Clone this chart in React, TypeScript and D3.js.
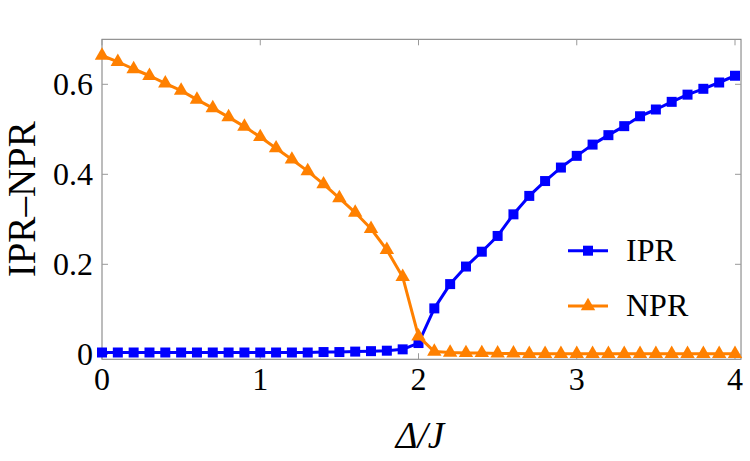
import React, { useEffect, useRef } from 'react';
import * as d3 from 'd3';

const deltaJ = [
  0.0, 0.1, 0.2, 0.3, 0.4, 0.5, 0.6, 0.7, 0.8, 0.9,
  1.0, 1.1, 1.2, 1.3, 1.4, 1.5, 1.6, 1.7, 1.8, 1.9,
  2.0, 2.1, 2.2, 2.3, 2.4, 2.5, 2.6, 2.7, 2.8, 2.9,
  3.0, 3.1, 3.2, 3.3, 3.4, 3.5, 3.6, 3.7, 3.8, 3.9, 4.0,
];

const ipr = [
  0.004, 0.004, 0.004, 0.004, 0.004, 0.004, 0.004, 0.004, 0.004, 0.004,
  0.004, 0.004, 0.004, 0.004, 0.005, 0.005, 0.006, 0.007, 0.008, 0.011,
  0.025, 0.102, 0.156, 0.195, 0.228, 0.263, 0.311, 0.352, 0.385, 0.415,
  0.441, 0.466, 0.487, 0.507, 0.529, 0.544, 0.561, 0.577, 0.590, 0.604, 0.619,
];

const npr = [
  0.664, 0.650, 0.634, 0.619, 0.602, 0.586, 0.566, 0.547, 0.527, 0.506,
  0.483, 0.458, 0.433, 0.407, 0.378, 0.347, 0.315, 0.279, 0.232, 0.172,
  0.040, 0.006, 0.004, 0.003, 0.003, 0.002, 0.002, 0.001, 0.001, 0.001,
  0.001, 0.001, 0.001, 0.001, 0.001, 0.001, 0.001, 0.001, 0.001, 0.001, 0.001,
];

const xTicks = [0, 1, 2, 3, 4];
const yTicks = [0, 0.2, 0.4, 0.6];

const BLUE = '#0000ff';
const ORANGE = '#ff8000';
const FONT = '"Liberation Serif", "Times New Roman", serif';

const App: React.FC = () => {
  const svgRef = useRef<SVGSVGElement>(null);

  useEffect(() => {
    if (!svgRef.current) return;
    const svg = d3.select(svgRef.current);
    svg.selectAll('*').remove();

    const x = d3.scaleLinear().domain([0, 4]).range([102, 735]);
    const y = d3.scaleLinear().domain([0, 0.6]).range([354.3, 84.3]);

    const left = x(0), right = x(4.038);
    const top = y(0.7), bottom = y(-0.011);

    // frame
    svg.append('rect')
      .attr('x', left).attr('y', top)
      .attr('width', right - left).attr('height', bottom - top)
      .attr('fill', 'none').attr('stroke', '#7a7a7a').attr('stroke-width', 1);

    // ticks, all drawn inward
    const tickLen = 6;
    xTicks.forEach(t => {
      svg.append('line').attr('x1', x(t)).attr('x2', x(t))
        .attr('y1', bottom).attr('y2', bottom - tickLen)
        .attr('stroke', '#999').attr('stroke-width', 1);
      svg.append('line').attr('x1', x(t)).attr('x2', x(t))
        .attr('y1', top).attr('y2', top + tickLen)
        .attr('stroke', '#999').attr('stroke-width', 1);
      svg.append('text').attr('x', x(t)).attr('y', bottom + 31)
        .attr('text-anchor', 'middle')
        .style('font-family', FONT).style('font-size', '32px')
        .text(d3.format('d')(t));
    });
    yTicks.forEach(t => {
      svg.append('line').attr('x1', left).attr('x2', left + tickLen)
        .attr('y1', y(t)).attr('y2', y(t))
        .attr('stroke', '#999').attr('stroke-width', 1);
      svg.append('line').attr('x1', right).attr('x2', right - tickLen)
        .attr('y1', y(t)).attr('y2', y(t))
        .attr('stroke', '#999').attr('stroke-width', 1);
      svg.append('text').attr('x', left - 9).attr('y', y(t) + 11)
        .attr('text-anchor', 'end')
        .style('font-family', FONT).style('font-size', '32px')
        .text(t === 0 ? '0' : d3.format('.1f')(t));
    });

    const plot = svg.append('g');

    const drawSeries = (vals: number[], color: string, shape: d3.SymbolType, size: number) => {
      const pts = deltaJ.map((d, i) => [d, vals[i]] as [number, number]);
      const line = d3.line<[number, number]>().x(d => x(d[0])).y(d => y(d[1]));
      plot.append('path').datum(pts)
        .attr('d', line)
        .attr('fill', 'none').attr('stroke', color).attr('stroke-width', 3)
        .attr('stroke-linejoin', 'round');
      plot.selectAll(null).data(pts).enter().append('path')
        .attr('transform', d => `translate(${x(d[0])},${y(d[1])})`)
        .attr('d', d3.symbol().type(shape).size(size)())
        .attr('fill', color);
    };

    drawSeries(ipr, BLUE, d3.symbolSquare, 100);
    drawSeries(npr, ORANGE, d3.symbolTriangle, 90);

    // legend
    const legend = [
      { name: 'IPR', color: BLUE, shape: d3.symbolSquare, size: 100, ly: 250.7 },
      { name: 'NPR', color: ORANGE, shape: d3.symbolTriangle, size: 90, ly: 306 },
    ];
    legend.forEach(l => {
      svg.append('line').attr('x1', 568).attr('x2', 608)
        .attr('y1', l.ly).attr('y2', l.ly)
        .attr('stroke', l.color).attr('stroke-width', 3);
      svg.append('path').attr('transform', `translate(588,${l.ly})`)
        .attr('d', d3.symbol().type(l.shape).size(l.size)())
        .attr('fill', l.color);
      svg.append('text').attr('x', 626).attr('y', l.ly + 10)
        .style('font-family', FONT).style('font-size', '32px')
        .text(l.name);
    });

    // axis titles
    svg.append('text').attr('x', 420).attr('y', 448)
      .attr('text-anchor', 'middle')
      .style('font-family', FONT).style('font-size', '37px').style('font-style', 'italic')
      .text('Δ/J');
    svg.append('text')
      .attr('transform', `translate(35,${(top + bottom) / 2}) rotate(-90)`)
      .attr('text-anchor', 'middle')
      .style('font-family', FONT).style('font-size', '39px')
      .text('IPR–NPR');
  }, []);

  return (
    <svg ref={svgRef} width={750} height={461}
      style={{ position: 'absolute', left: 0, top: 0, background: '#fff' }} />
  );
};

export default App;
